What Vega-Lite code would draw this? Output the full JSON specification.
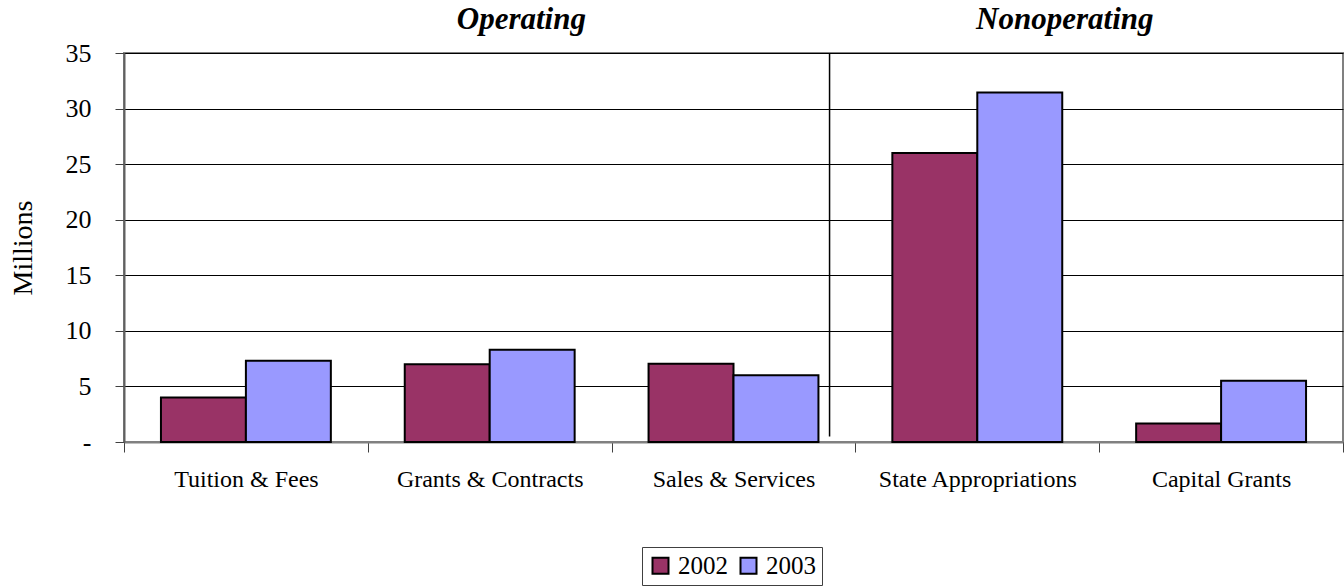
{
  "$schema": "https://vega.github.io/schema/vega-lite/v6.json",
  "width": 1219,
  "height": 389,
  "autosize": "none",
  "padding": {"left": 124, "top": 53, "right": 1, "bottom": 144},
  "background": "white",
  "config": {
    "font": "Liberation Serif",
    "view": {"stroke": "#808080", "strokeWidth": 2}
  },
  "data": {
    "values": [
      {"category": "Tuition & Fees", "year": "2002", "value": 4.0},
      {"category": "Tuition & Fees", "year": "2003", "value": 7.3},
      {"category": "Grants & Contracts", "year": "2002", "value": 7.0},
      {"category": "Grants & Contracts", "year": "2003", "value": 8.3},
      {"category": "Sales & Services", "year": "2002", "value": 7.05},
      {"category": "Sales & Services", "year": "2003", "value": 6.0},
      {"category": "State Appropriations", "year": "2002", "value": 26.0},
      {"category": "State Appropriations", "year": "2003", "value": 31.45},
      {"category": "Capital Grants", "year": "2002", "value": 1.67},
      {"category": "Capital Grants", "year": "2003", "value": 5.5}
    ]
  },
  "layer": [
    {
      "mark": {"type": "bar", "stroke": "black", "strokeWidth": 2},
      "encoding": {
        "x": {
          "field": "category",
          "type": "nominal",
          "sort": ["Tuition & Fees", "Grants & Contracts", "Sales & Services", "State Appropriations", "Capital Grants"],
          "scale": {"paddingInner": 0, "paddingOuter": 0},
          "axis": {
            "title": null,
            "labelAngle": 0,
            "labelLimit": 0,
            "tickBand": "extent",
            "domainColor": "#808080",
            "domainWidth": 2,
            "tickColor": "#404040",
            "tickSize": 10,
            "tickWidth": 1,
            "labelFontSize": 24,
            "labelColor": "black",
            "labelPadding": 15,
            "labelFont": "Liberation Serif"
          }
        },
        "xOffset": {
          "field": "year",
          "type": "nominal",
          "scale": {"paddingOuter": 0.435, "paddingInner": 0}
        },
        "y": {
          "field": "value",
          "type": "quantitative",
          "scale": {"domain": [0, 35], "nice": false},
          "axis": {
            "title": "Millions",
            "titleFontSize": 28,
            "titleFontWeight": "normal",
            "titleFont": "Liberation Serif",
            "titleColor": "black",
            "titlePadding": 28,
            "values": [0, 5, 10, 15, 20, 25, 30, 35],
            "labelExpr": "datum.value == 0 ? '-' : datum.label",
            "labelFontSize": 26,
            "labelColor": "black",
            "labelFont": "Liberation Serif",
            "labelPadding": 24,
            "tickSize": 9,
            "tickColor": "#404040",
            "domainColor": "#606060",
            "domainWidth": 2,
            "grid": true,
            "gridColor": "black",
            "gridWidth": 1
          }
        },
        "color": {
          "field": "year",
          "type": "nominal",
          "scale": {"domain": ["2002", "2003"], "range": ["#993366", "#9999FF"]},
          "legend": {
            "title": null,
            "orient": "none",
            "legendX": 518,
            "legendY": 494,
            "direction": "horizontal",
            "columns": 2,
            "symbolType": "square",
            "symbolSize": 256,
            "symbolStrokeColor": "black",
            "symbolStrokeWidth": 2,
            "symbolOpacity": 1,
            "labelFontSize": 25,
            "labelFont": "Liberation Serif",
            "labelColor": "black",
            "labelOffset": 5,
            "columnPadding": 8,
            "strokeColor": "#404040",
            "fillColor": "white",
            "padding": 6
          }
        }
      }
    },
    {
      "data": {"values": [{"category": "Sales & Services", "top": 35, "bottom": 0.5}]},
      "mark": {"type": "rule", "color": "black", "strokeWidth": 1.5},
      "encoding": {
        "x": {"field": "category", "type": "nominal", "bandPosition": 0.894, "sort": ["Tuition & Fees", "Grants & Contracts", "Sales & Services", "State Appropriations", "Capital Grants"]},
        "y": {"field": "top", "type": "quantitative"},
        "y2": {"field": "bottom"}
      }
    },
    {
      "data": {"values": [{"category": "Grants & Contracts", "label": "Operating", "pos": 35}]},
      "mark": {"type": "text", "fontSize": 31, "fontWeight": "bold", "fontStyle": "italic", "font": "Liberation Serif", "baseline": "middle", "dy": -33, "color": "black"},
      "encoding": {
        "x": {"field": "category", "type": "nominal", "bandPosition": 0.63, "sort": ["Tuition & Fees", "Grants & Contracts", "Sales & Services", "State Appropriations", "Capital Grants"]},
        "y": {"field": "pos", "type": "quantitative"},
        "text": {"field": "label"}
      }
    },
    {
      "data": {"values": [{"category": "State Appropriations", "label": "Nonoperating", "pos": 35}]},
      "mark": {"type": "text", "fontSize": 31, "fontWeight": "bold", "fontStyle": "italic", "font": "Liberation Serif", "baseline": "middle", "dy": -33, "color": "black"},
      "encoding": {
        "x": {"field": "category", "type": "nominal", "bandPosition": 0.859, "sort": ["Tuition & Fees", "Grants & Contracts", "Sales & Services", "State Appropriations", "Capital Grants"]},
        "y": {"field": "pos", "type": "quantitative"},
        "text": {"field": "label"}
      }
    }
  ]
}
